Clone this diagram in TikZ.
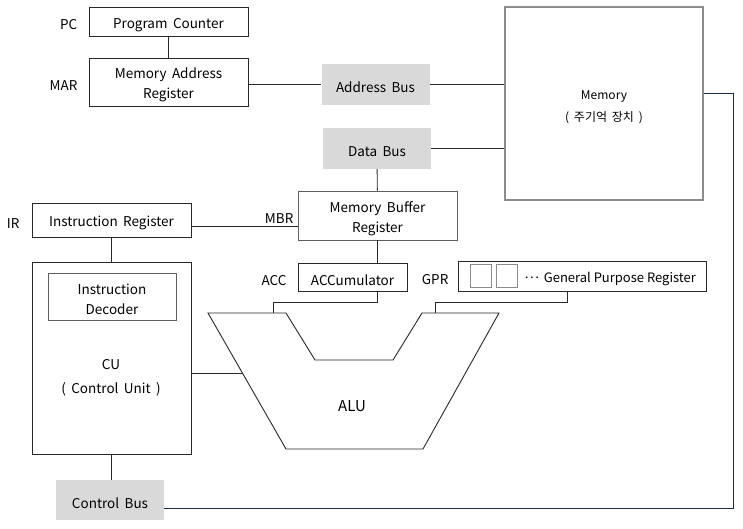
\documentclass[tikz,border=0pt]{standalone}
\usepackage{fontspec}
\setmainfont{Noto Sans CJK KR}[WordSpace=1.8]
\newfontfamily\plainfont{Noto Sans CJK KR}
\usepackage{tikz}
\usetikzlibrary{positioning}
\definecolor{wire}{RGB}{40,40,40}
\definecolor{darkwire}{RGB}{30,45,70}
\definecolor{busgray}{RGB}{217,217,217}
\definecolor{softgray}{RGB}{95,95,95}
\definecolor{memgray}{RGB}{140,140,140}
\newcommand{\lowstrut}{\rule{0pt}{16.5pt}}

\begin{document}
\begin{tikzpicture}[x=1pt, y=-1pt,
  reg/.style={rectangle, draw=wire, line width=0.9pt, fill=white, align=center,
              inner sep=0pt, font=\fontsize{13.5}{20}\selectfont},
  bus/.style={rectangle, fill=busgray, minimum width=108pt, minimum height=41pt,
              font=\fontsize{13.5}{20}\selectfont},
  lbl/.style={inner sep=0pt, font=\fontsize{13.5}{20}\selectfont},
  line/.style={draw=wire, line width=0.9pt}
]
\useasboundingbox (0,0) rectangle (743,529);

% registers and buses
\node[reg, minimum width=159pt, minimum height=29pt] (pc) at (168.5,21.5) {\lowstrut Program Counter};
\node[reg, minimum width=159pt, minimum height=48pt] (mar) at (168.5,82) {\lowstrut Memory Address\\Register};
\node[bus] (abus) at (375.5,84.5) {\lowstrut Address Bus};
\node[bus] (dbus) at (377,148.5) {\lowstrut Data Bus};
\node[reg, draw=memgray, line width=1.5pt, minimum width=198pt, minimum height=193pt,
      font=\fontsize{12}{22}\selectfont] (mem) at (604,103.5) {\lowstrut Memory\\( 주기억 장치 )};
\node[reg, draw=softgray, minimum width=159pt, minimum height=49pt] (mbr) at (377.5,215.5) {\lowstrut Memory Buffer\\Register};
\node[reg, minimum width=159pt, minimum height=34pt] (ir) at (111.5,220) {\lowstrut Instruction Register};
\node[reg, minimum width=159pt, minimum height=192pt] (cu) at (111.5,358) {};
\node[reg, draw=softgray, minimum width=128pt, minimum height=47pt] (idec) at (112,296.5) {\lowstrut Instruction\\Decoder};
\node[lbl, align=center, font=\fontsize{13.5}{24}\selectfont] (cutxt) at (111,375) {\lowstrut CU\\( Control Unit )};
\node[bus, minimum height=40pt] (cbus) at (110,500) {\lowstrut Control Bus};
\node[reg, minimum width=109pt, minimum height=28pt] (acc) at (352.5,277) {\lowstrut ACCumulator};
\node[reg, minimum width=248pt, minimum height=30pt] (gpr) at (582,276) {};
\node[reg, draw=memgray, line width=0.7pt, minimum width=21pt, minimum height=23pt] (sq1) at (480.5,275.5) {};
\node[reg, draw=memgray, line width=0.7pt, minimum width=21pt, minimum height=23pt] (sq2) at (507,275.5) {};
\node[lbl, anchor=west, font=\plainfont\fontsize{13}{20}\selectfont] (gprtxt) at ([xshift=5pt]sq2.east)
  {\lowstrut ·\kern-2pt·\kern-2pt· General Purpose Register};

% side labels
\node[lbl, left=11pt of pc] {\lowstrut PC};
\node[lbl, left=11pt of mar] {\lowstrut MAR};
\node[lbl, left=12pt of ir] {\lowstrut IR};
\node[lbl, left=4pt of mbr] {\lowstrut MBR};
\node[lbl, left=11pt of acc] {\lowstrut ACC};
\node[lbl, left=9pt of gpr] {\lowstrut GPR};

% ALU
\draw[line] (208,313) -- (286,313) -- (315,360) -- (393,360) -- (422,313)
  -- (499,313) -- (423,449) -- (286,449) -- cycle;
\node[inner sep=0pt, font=\fontsize{15}{20}\selectfont] (alu) at (352,406) {ALU};
\coordinate (aluin1) at (273,313);
\coordinate (aluin2) at (435,313);
\coordinate (alul) at (242,373);
\coordinate (mcorner) at (733,508);

% connectors
\draw[line] (pc) -- (mar);
\draw[line] (mar.east |- abus.west) -- (abus.west);
\draw[line] (abus.east) -- (abus.east -| mem.west);
\draw[line] (dbus.east) -- (dbus.east -| mem.west);
\draw[line] (dbus) -- (mbr);
\draw[line] ([yshift=-6pt]ir.east) -- ([yshift=-6pt]ir.east -| mbr.west);
\draw[line] (ir) -- (cu);
\draw[line] (cu.south) -- (cu.south |- cbus.north);
\draw[line] (cu.east |- alul) -- (alul);
\draw[line] (mbr.south) -- (mbr.south |- acc.north);
\draw[line] (mbr.south |- acc.south) -- ++(0,11) -| (aluin1);
\draw[line] ([xshift=-15pt]gpr.south) -- ++(0,11) -| (aluin2);
\draw[line, draw=darkwire] ([yshift=10pt]mem.east) -| (mcorner) -- (mcorner -| cbus.east);
\end{tikzpicture}
\end{document}
